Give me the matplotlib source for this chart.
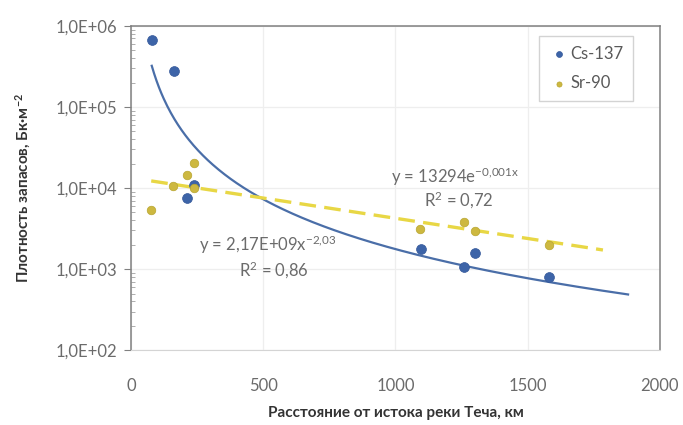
import numpy as np
import matplotlib
matplotlib.use("Agg")
import matplotlib.pyplot as plt
from matplotlib.ticker import FixedLocator, FuncFormatter, LogLocator, NullFormatter

plt.rcParams['font.family'] = ['Lato', 'Open Sans', 'DejaVu Sans']
plt.rcParams['mathtext.fontset'] = 'custom'
plt.rcParams['mathtext.rm'] = 'Lato'
plt.rcParams['mathtext.it'] = 'Lato'
plt.rcParams['mathtext.bf'] = 'Lato:bold'

# Data
cs_x = [78, 163, 213, 239, 1095, 1260, 1300, 1580]
cs_y = [6.8e5, 2.78e5, 7.6e3, 1.1e4, 1750, 1050, 1590, 790]
sr_x = [76, 160, 213, 236, 239, 1093, 1260, 1300, 1580]
sr_y = [5350, 1.07e4, 1.45e4, 2.02e4, 1.0e4, 3090, 3840, 2940, 1980]

cs_label = "Cs-137"
sr_label = "Sr-90"
cs_eq = r"y = 2,17E+09x$\mathregular{^{-2{,}03}}$"
cs_r2 = r"R$\mathregular{^{2}}$ = 0,86"
sr_eq = r"y = 13294e$\mathregular{^{-0{,}001x}}$"
sr_r2 = r"R$\mathregular{^{2}}$ = 0,72"

cs_trend_range = (78, 1880)
sr_trend_range = (76, 1785)

xlabel = "Расстояние от истока реки Теча, км"
ylabel = r"Плотность запасов, Бк·м$\mathregular{^{-2}}$"

fig = plt.figure(figsize=(6.83, 4.25), dpi=100)
ax = fig.add_axes([0.192, 0.176, 0.774, 0.763])

# trend fits computed from data
b_cs, a_cs = np.polyfit(np.log(cs_x), np.log(cs_y), 1)
b_sr, a_sr = np.polyfit(sr_x, np.log(sr_y), 1)

xc = np.linspace(*cs_trend_range, 400)
ax.plot(xc, np.exp(a_cs) * xc ** b_cs, color='#4a6ea8', lw=1.6, zorder=2)
xs = np.linspace(*sr_trend_range, 100)
ax.plot(xs, np.exp(a_sr + b_sr * xs), color='#e8d745', lw=2.4, ls=(0, (5, 2.5)), zorder=2)

ax.scatter(cs_x, cs_y, s=50, color='#3d64a8', edgecolors='#34589a', linewidths=0.5,
           zorder=3, label=cs_label)
ax.scatter(sr_x, sr_y, s=38, color='#cdb840', edgecolors='#b8a530', linewidths=0.5,
           zorder=4, label=sr_label)

ax.set_yscale('log')
ax.set_ylim(1e2, 1e6)
ax.set_xlim(0, 2000)
ax.set_xticks([0, 500, 1000, 1500, 2000])
ax.yaxis.set_major_locator(FixedLocator([1e2, 1e3, 1e4, 1e5, 1e6]))
ax.yaxis.set_major_formatter(FuncFormatter(lambda v, p: "1,0E+%02d" % round(np.log10(v))))
ax.yaxis.set_minor_locator(LogLocator(base=10, subs=np.arange(2, 10), numticks=20))
ax.yaxis.set_minor_formatter(NullFormatter())

ax.grid(True, which='major', color='#eeeeee', lw=0.9)
ax.set_axisbelow(True)

for s in ['left', 'right', 'top']:
    ax.spines[s].set_color('#808080')
    ax.spines[s].set_linewidth(1.1)
ax.spines['bottom'].set_color('#d4d4d4')

ax.tick_params(axis='y', which='major', direction='out', length=5, color='#808080',
               labelsize=12, labelcolor='#6b6b6b', pad=5)
ax.tick_params(axis='y', which='minor', direction='in', length=3, color='#a0a0a0')
ax.tick_params(axis='x', which='major', length=0, labelsize=12, labelcolor='#6b6b6b', pad=20)

ax.set_xlabel(xlabel, fontsize=11, fontweight='bold', color='#333333', labelpad=9)
ax.set_ylabel(ylabel, fontsize=11, fontweight='bold', color='#333333', labelpad=16)


def px(xp, yp):
    return (xp / 683.0, 1 - yp / 425.0)


fig.text(*px(455, 177), sr_eq, ha='center', va='center', fontsize=12, color='#6b6b6b')
fig.text(*px(459, 200), sr_r2, ha='center', va='center', fontsize=12, color='#6b6b6b')
fig.text(*px(268, 245), cs_eq, ha='center', va='center', fontsize=12, color='#6b6b6b')
fig.text(*px(274, 270), cs_r2, ha='center', va='center', fontsize=12, color='#6b6b6b')

leg = ax.legend(loc='upper right', bbox_to_anchor=(0.95, 0.97), fontsize=12,
                frameon=True, fancybox=False, edgecolor='#c8c8c8', labelspacing=0.8,
                borderpad=0.6, handletextpad=0.1, markerscale=0.6, handlelength=1.2,
                borderaxespad=0)
leg.get_frame().set_linewidth(1.0)
for t in leg.get_texts():
    t.set_color('#595959')

fig.savefig('out.png', dpi=100)
